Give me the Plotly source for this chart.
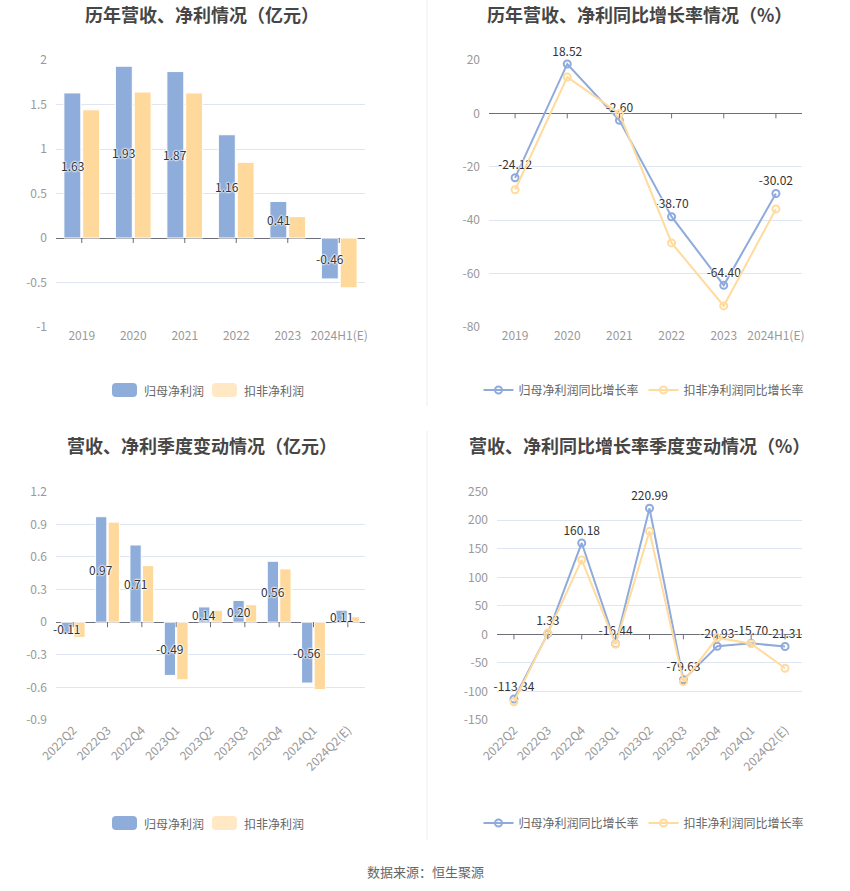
import plotly.graph_objects as go

# ---------------- data ----------------
years = ["2019", "2020", "2021", "2022", "2023", "2024H1(E)"]
annual_np = [1.63, 1.93, 1.87, 1.16, 0.41, -0.46]          # 归母净利润
annual_dnp = [1.44, 1.64, 1.63, 0.85, 0.24, -0.56]         # 扣非净利润
annual_np_yoy = [-24.12, 18.52, -2.60, -38.70, -64.40, -30.02]
annual_dnp_yoy = [-28.6, 13.6, -0.1, -48.5, -72.1, -35.8]

quarters = ["2022Q2", "2022Q3", "2022Q4", "2023Q1", "2023Q2", "2023Q3",
            "2023Q4", "2024Q1", "2024Q2(E)"]
q_np = [-0.11, 0.97, 0.71, -0.49, 0.14, 0.20, 0.56, -0.56, 0.11]
q_dnp = [-0.14, 0.92, 0.52, -0.53, 0.11, 0.16, 0.49, -0.62, 0.05]
q_np_yoy = [-113.34, 1.33, 160.18, -16.44, 220.99, -79.63, -20.93, -15.70, -21.31]
q_dnp_yoy = [-118.0, 2.3, 130.5, -17.0, 180.6, -82.8, -5.8, -16.3, -59.4]

y1_ticks = [2, 1.5, 1, 0.5, 0, -0.5, -1]
y1_text = ["2", "1.5", "1", "0.5", "0", "-0.5", "-1"]
y2_ticks = [20, 0, -20, -40, -60, -80]
y3_ticks = [1.2, 0.9, 0.6, 0.3, 0, -0.3, -0.6, -0.9]
y4_ticks = [250, 200, 150, 100, 50, 0, -50, -100, -150]

titles = ["历年营收、净利情况（亿元）", "历年营收、净利同比增长率情况（%）",
          "营收、净利季度变动情况（亿元）", "营收、净利同比增长率季度变动情况（%）"]
names_bar = ["归母净利润", "扣非净利润"]
names_line = ["归母净利润同比增长率", "扣非净利润同比增长率"]
source = "数据来源：恒生聚源"

# ---------------- style ----------------
FONT = "Noto Sans CJK SC, Microsoft YaHei, sans-serif"
BLUE = "#8EADDB"
ORANGE = "#FFD99B"
ORANGE_LEG = "#FFE8C4"
BLUE_L = "#8FAADC"
ORANGE_L = "#FFDB9E"
GRID = "#E0E6F1"
AXIS = "#6E7079"
TICK = "#999999"
HALO = "0 0 2px #fff, 0 0 2px #fff, 0 0 2px #fff, 0 0 2px #fff"
W, H = 850, 891
BARGAP = 0.27
BARGROUPGAP = 0.1

def fmt(v):
    return f"{v:.2f}"

def tick_text(vals, nd):
    out = []
    for v in vals:
        if v == 0:
            out.append("0")
        elif nd == 0:
            out.append(f"{v:g}")
        else:
            out.append(f"{v:.{nd}f}")
    return out

fig = go.Figure()
label_font = dict(size=12, color="#333", family=FONT, shadow=HALO)
blue_offset = -(1 - BARGAP) / 4  # centre of the first bar in each group
annotations = []

def bar_pair(cats, v1, v2, xa, ya):
    fig.add_trace(go.Bar(x=cats, y=v1, name=names_bar[0], showlegend=False,
                         marker=dict(color=BLUE, line=dict(color="#fff", width=1)),
                         xaxis=xa, yaxis=ya))
    fig.add_trace(go.Bar(x=cats, y=v2, name=names_bar[1], showlegend=False,
                         marker=dict(color=ORANGE, line=dict(color="#fff", width=1)),
                         xaxis=xa, yaxis=ya))
    for i, v in enumerate(v1):
        annotations.append(dict(text=fmt(v), x=i + blue_offset, y=v / 2, xref=xa, yref=ya,
                                showarrow=False, xanchor="center", yanchor="middle",
                                font=label_font))

def line_pair(cats, v1, v2, xa, ya, lg):
    fig.add_trace(go.Scatter(x=cats, y=v1, name=names_line[0], mode="lines+markers+text",
                             line=dict(color=BLUE_L, width=2),
                             marker=dict(symbol="circle-open", size=7, color=BLUE_L, line=dict(width=2)),
                             text=[fmt(v) for v in v1], textposition="top center",
                             textfont=label_font, cliponaxis=False,
                             xaxis=xa, yaxis=ya, legend=lg))
    fig.add_trace(go.Scatter(x=cats, y=v2, name=names_line[1], mode="lines+markers",
                             line=dict(color=ORANGE_L, width=2),
                             marker=dict(symbol="circle-open", size=7, color=ORANGE_L, line=dict(width=2)),
                             cliponaxis=False, xaxis=xa, yaxis=ya, legend=lg))

bar_pair(years, annual_np, annual_dnp, "x", "y")
line_pair(years, annual_np_yoy, annual_dnp_yoy, "x2", "y2", "legend")
bar_pair(quarters, q_np, q_dnp, "x3", "y3")
line_pair(quarters, q_np_yoy, q_dnp_yoy, "x4", "y4", "legend2")

# ---------------- axes ----------------
def xax(domain, anchor, n, angle=0):
    return dict(domain=domain, anchor=anchor, type="category", showgrid=False, showline=False,
                zeroline=False, ticks="", tickangle=angle, range=[-0.5, n - 0.5], automargin=False,
                tickfont=dict(size=12, color=TICK, family=FONT), fixedrange=True)

def yax(domain, anchor, ticks, text, rng):
    return dict(domain=domain, anchor=anchor, range=rng, tickvals=ticks, ticktext=text,
                showgrid=True, gridcolor=GRID, gridwidth=1, zeroline=True, zerolinecolor=AXIS,
                zerolinewidth=1, showline=False, ticks="", ticklabelstandoff=8, automargin=False,
                tickfont=dict(size=12, color=TICK, family=FONT), fixedrange=True)

dxl = [56 / W, 365 / W]
dxr = [489 / W, 802 / W]
dxr2 = [497 / W, 802 / W]
dyt = [1 - 327 / H, 1 - 60 / H]
dyb = [1 - 720 / H, 1 - 491.7 / H]

fig.update_layout(
    template="none",
    xaxis=xax(dxl, "y", len(years)), yaxis=yax(dyt, "x", y1_ticks, y1_text, [-1, 2]),
    xaxis2=xax(dxr, "y2", len(years)), yaxis2=yax(dyt, "x2", y2_ticks, tick_text(y2_ticks, 0), [-80, 20]),
    xaxis3=xax(dxl, "y3", len(quarters), -45), yaxis3=yax(dyb, "x3", y3_ticks, tick_text(y3_ticks, 1), [-0.9, 1.2]),
    xaxis4=xax(dxr2, "y4", len(quarters), -45), yaxis4=yax(dyb, "x4", y4_ticks, tick_text(y4_ticks, 0), [-150, 250]),
)

# tick marks on zero line (at category indices)
shapes = []
for cats, xr, yr in [(years, "x", "y"), (years, "x2", "y2"), (quarters, "x3", "y3"), (quarters, "x4", "y4")]:
    for i in range(len(cats)):
        shapes.append(dict(type="line", xref=xr, yref=yr, x0=i, x1=i, ysizemode="pixel", yanchor=0,
                           y0=0, y1=-5, line=dict(color=AXIS, width=1)))
# divider lines
shapes.append(dict(type="line", xref="paper", yref="paper", x0=427 / W, x1=427 / W, y0=1 - 406 / H, y1=1,
                   line=dict(color="#EEEEEE", width=1)))
shapes.append(dict(type="line", xref="paper", yref="paper", x0=427 / W, x1=427 / W, y0=1 - 840 / H, y1=1 - 431 / H,
                   line=dict(color="#EEEEEE", width=1)))

def rrect(x0, y0, x1, y1, r, color):
    # rounded rectangle in pixel coords -> paper path
    def px(x): return x / W
    def py(y): return 1 - y / H
    p = (f"M {px(x0 + r)},{py(y0)} L {px(x1 - r)},{py(y0)} Q {px(x1)},{py(y0)} {px(x1)},{py(y0 + r)} "
         f"L {px(x1)},{py(y1 - r)} Q {px(x1)},{py(y1)} {px(x1 - r)},{py(y1)} "
         f"L {px(x0 + r)},{py(y1)} Q {px(x0)},{py(y1)} {px(x0)},{py(y1 - r)} "
         f"L {px(x0)},{py(y0 + r)} Q {px(x0)},{py(y0)} {px(x0 + r)},{py(y0)} Z")
    return dict(type="path", xref="paper", yref="paper", path=p, fillcolor=color, line=dict(width=0))

# custom legends for bar charts
for cy in [390, 823]:
    for sx, col, nm in [(112, BLUE, names_bar[0]), (212, ORANGE_LEG, names_bar[1])]:
        shapes.append(rrect(sx, cy - 7, sx + 25, cy + 7, 4, col))
        annotations.append(dict(text=nm, x=(sx + 30) / W, y=1 - cy / H, xref="paper", yref="paper",
                                xanchor="left", yanchor="middle", showarrow=False,
                                font=dict(size=12, color="#666", family=FONT)))

for t, cx, cy in zip(titles, [202, 639, 202, 639], [14, 14, 445, 445]):
    annotations.append(dict(text=f"<b>{t}</b>", x=cx / W, y=1 - cy / H, xref="paper", yref="paper",
                            xanchor="center", yanchor="middle", showarrow=False,
                            font=dict(size=18, color="#464646", family=FONT)))
annotations.append(dict(text=source, x=425 / W, y=1 - 871 / H, xref="paper", yref="paper",
                        xanchor="center", yanchor="middle", showarrow=False,
                        font=dict(size=13, color="#666", family=FONT)))

def leg(cx, cy):
    return dict(orientation="h", x=cx / W, y=1 - cy / H, xanchor="center", yanchor="middle",
                font=dict(size=12, color="#666", family=FONT), bgcolor="rgba(0,0,0,0)",
                borderwidth=0, itemclick=False, itemdoubleclick=False)

fig.update_layout(
    width=W, height=H, margin=dict(l=0, r=0, t=0, b=0, autoexpand=False),
    paper_bgcolor="#fff", plot_bgcolor="#fff",
    barmode="group", bargap=BARGAP, bargroupgap=BARGROUPGAP,
    font=dict(family=FONT),
    showlegend=True,
    legend=leg(644, 390), legend2=leg(644, 823),
    shapes=shapes, annotations=annotations,
)

fig.write_html("out.html")
